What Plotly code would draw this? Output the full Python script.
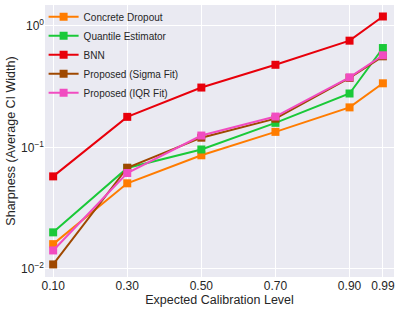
import plotly.graph_objects as go

levels = [0.10, 0.30, 0.50, 0.70, 0.90, 0.99]
tick_labels = ["0.10", "0.30", "0.50", "0.70", "0.90", "0.99"]

concrete_dropout = [0.0160, 0.0506, 0.086, 0.134, 0.213, 0.336]
quantile_estimator = [0.0200, 0.0676, 0.096, 0.159, 0.277, 0.655]
bnn = [0.0577, 0.178, 0.31, 0.477, 0.753, 1.19]
sigma_fit = [0.0109, 0.0680, 0.120, 0.172, 0.372, 0.560]
iqr_fit = [0.0142, 0.0615, 0.125, 0.179, 0.376, 0.571]

series = [
    ("Concrete Dropout", concrete_dropout, "#ff7c00"),
    ("Quantile Estimator", quantile_estimator, "#1ac938"),
    ("BNN", bnn, "#e8000b"),
    ("Proposed (Sigma Fit)", sigma_fit, "#9f4800"),
    ("Proposed (IQR Fit)", iqr_fit, "#f14cc1"),
]

fig = go.Figure()
for name, vals, color in series:
    fig.add_trace(go.Scatter(
        x=levels, y=vals, name=name, mode="lines+markers",
        line=dict(color=color, width=2),
        marker=dict(symbol="square", size=8, color=color),
    ))

fig.update_layout(
    width=399, height=310,
    margin=dict(l=45, r=5, t=5, b=33, autoexpand=False),
    paper_bgcolor="white",
    plot_bgcolor="#eaeaf2",
    font=dict(family="Liberation Sans, Arial, sans-serif", size=11, color="#262626"),
    legend=dict(
        x=-0.004, y=1.01, xanchor="left", yanchor="top",
        bgcolor="rgba(0,0,0,0)", font=dict(size=10),
        tracegroupgap=0, itemwidth=30,
    ),
    showlegend=True,
)
fig.update_xaxes(
    range=[0.078, 1.02],
    tickvals=levels, ticktext=tick_labels, tickfont=dict(size=12),
    showgrid=True, gridcolor="white", gridwidth=1,
    zeroline=False, showline=False, ticks="", ticklen=0,
    automargin=False,
    title=dict(text="Expected Calibration Level", font=dict(size=12.5), standoff=2),
)
fig.update_yaxes(
    type="log",
    range=[-2.066, 0.17],
    tickvals=[0.01, 0.1, 1],
    ticktext=["10<sup>−2</sup>", "10<sup>−1</sup>", "10<sup>0</sup>"],
    tickfont=dict(size=12),
    showgrid=True, gridcolor="white", gridwidth=1,
    zeroline=False, showline=False, ticks="", ticklen=0,
    automargin=False,
    title=dict(text="Sharpness (Average CI Width)", font=dict(size=12.5), standoff=2),
)

fig.write_html("out.html", config={"displayModeBar": False},
               post_script="document.body.style.margin='0';")
